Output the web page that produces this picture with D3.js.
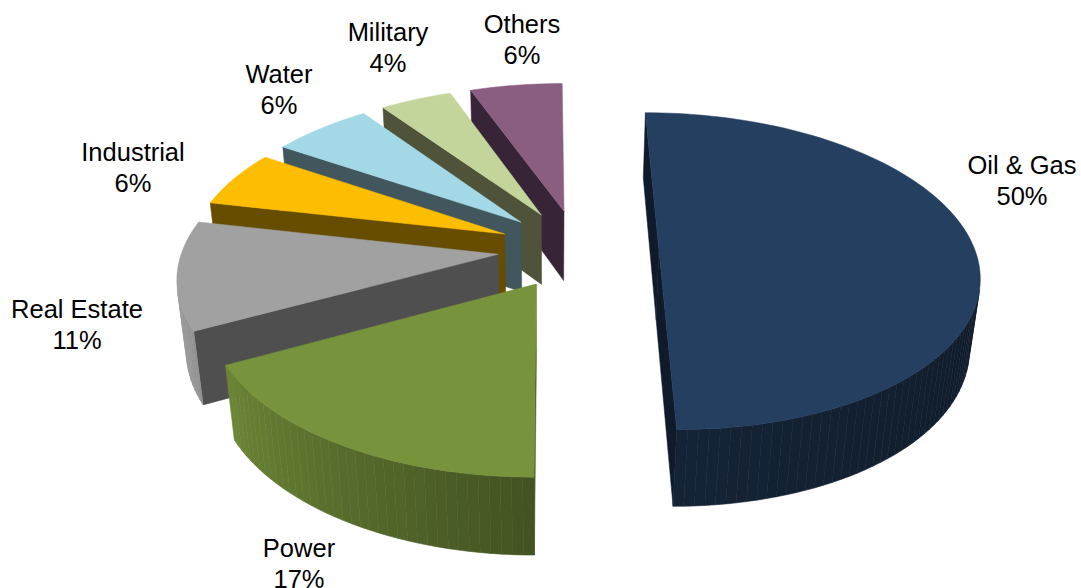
<!DOCTYPE html>
<html lang="en">
  <head>
    <meta charset="utf-8">
    <title>Sectors</title>
    <script src="https://d3js.org/d3.v7.min.js"></script>
    <style>
    html, body { margin:0; padding:0; background:#ffffff; overflow:hidden; }
    text { font-family:"Liberation Sans", Arial, sans-serif; font-size:25.5px; fill:#000000; text-anchor:middle; }
    </style>
  </head>
  <body>
    <div id="chart"></div>
    <script>
    const sectors = ["Oil & Gas", "Power", "Real Estate", "Industrial", "Water", "Military", "Others"];
    const percentLabels = ["50%", "17%", "11%", "6%", "6%", "4%", "6%"];
    // shares, the labels are these rounded
    const shares = [50, 17.4, 11, 5.8, 6, 4.3, 5.5];
    const topColors = ["#243f60", "#77933c", "#a1a1a1", "#fdbd00", "#a3d9e6", "#c3d59b", "#8a5e80"];
    const wallColors = ["#0f1b2b", "#4f6127", "#4f4f4f", "#664d00", "#42565e", "#4f533a", "#372437"];

    // label place, one per sector: centre x, first baseline
    const labelX = [1022, 299, 77, 133, 279, 388, 522];
    const labelY = [174, 557, 318, 161, 83, 41, 33];

    const width = 1081, height = 588;
    const svg = d3.select("#chart").append("svg").attr("width", width).attr("height", height);

    // perspective of the pie plane, fitted on the picture (radius = 1)
    const vanishX = 549, horizonY = -863, scaleX = 316, scaleTop = 1113, scaleBottom = 1214;
    const depth = 7.15, drop = 0.0256;
    const centre = [0.093, -0.006], explode = 0.255;

    function project(x, y, bottom) {
      const w = 1 - y / depth + (bottom ? drop : 0);
      return [vanishX + scaleX * x / w, horizonY + (bottom ? scaleBottom : scaleTop) / w];
    }

    const line = d3.line();
    const pie = d3.pie().sort(null).startAngle(0).endAngle(2 * Math.PI);
    const arcs = pie(shares);

    // side brightness against direction of the outer wall
    const shade = d3.scaleLinear().domain([90, 180, 241, 270]).range([0.42, 0.56, 0.9, 1]).clamp(true);
    const frontFacing = pts => d3.polygonArea(pts) > 0;

    function drawSlice(arc, i) {
      const mid = (arc.startAngle + arc.endAngle) / 2;
      const ox = centre[0] + explode * Math.sin(mid);
      const oy = centre[1] - explode * Math.cos(mid);
      const rim = a => [ox + Math.sin(a), oy - Math.cos(a)];
      const g = svg.append("g").attr("class", "slice");

      const steps = Math.max(2, Math.ceil((arc.endAngle - arc.startAngle) / 0.03));
      const angles = d3.range(steps + 1).map(k => arc.startAngle + (arc.endAngle - arc.startAngle) * k / steps);

      // flat walls
      [arc.startAngle, arc.endAngle].forEach(a => {
        const r = rim(a);
        const quad = [project(ox, oy), project(r[0], r[1]), project(r[0], r[1], true), project(ox, oy, true)];
        const pts = a === arc.startAngle ? quad : quad.slice().reverse();
        if (frontFacing(pts)) {
          g.append("path").attr("d", line(quad) + "Z").attr("fill", wallColors[i])
            .attr("stroke", wallColors[i]).attr("stroke-width", 0.5);
        }
      });

      // outer wall
      const dark = d3.interpolateRgb("#000000", topColors[i]);
      d3.pairs(angles).forEach(([a0, a1]) => {
        const r0 = rim(a0), r1 = rim(a1);
        const quad = [project(r0[0], r0[1]), project(r1[0], r1[1]), project(r1[0], r1[1], true), project(r0[0], r0[1], true)];
        if (frontFacing(quad)) {
          const c = dark(shade((a0 + a1) / 2 * 180 / Math.PI));
          g.append("path").attr("d", line(quad) + "Z").attr("fill", c).attr("stroke", c).attr("stroke-width", 0.6);
        }
      });

      // top face
      const face = [project(ox, oy)].concat(angles.map(a => { const r = rim(a); return project(r[0], r[1]); }));
      g.append("path").attr("d", line(face) + "Z").attr("fill", topColors[i])
        .attr("stroke", topColors[i]).attr("stroke-width", 0.5);
    }

    // back slices first, Oil & Gas stands apart on top
    d3.range(arcs.length - 1, -1, -1).forEach(i => drawSlice(arcs[i], i));

    sectors.forEach((name, i) => {
      const t = svg.append("text").attr("x", labelX[i]).attr("y", labelY[i]);
      t.append("tspan").attr("x", labelX[i]).text(name);
      t.append("tspan").attr("x", labelX[i]).attr("dy", 31).text(percentLabels[i]);
    });
    </script>
  </body>
</html>
